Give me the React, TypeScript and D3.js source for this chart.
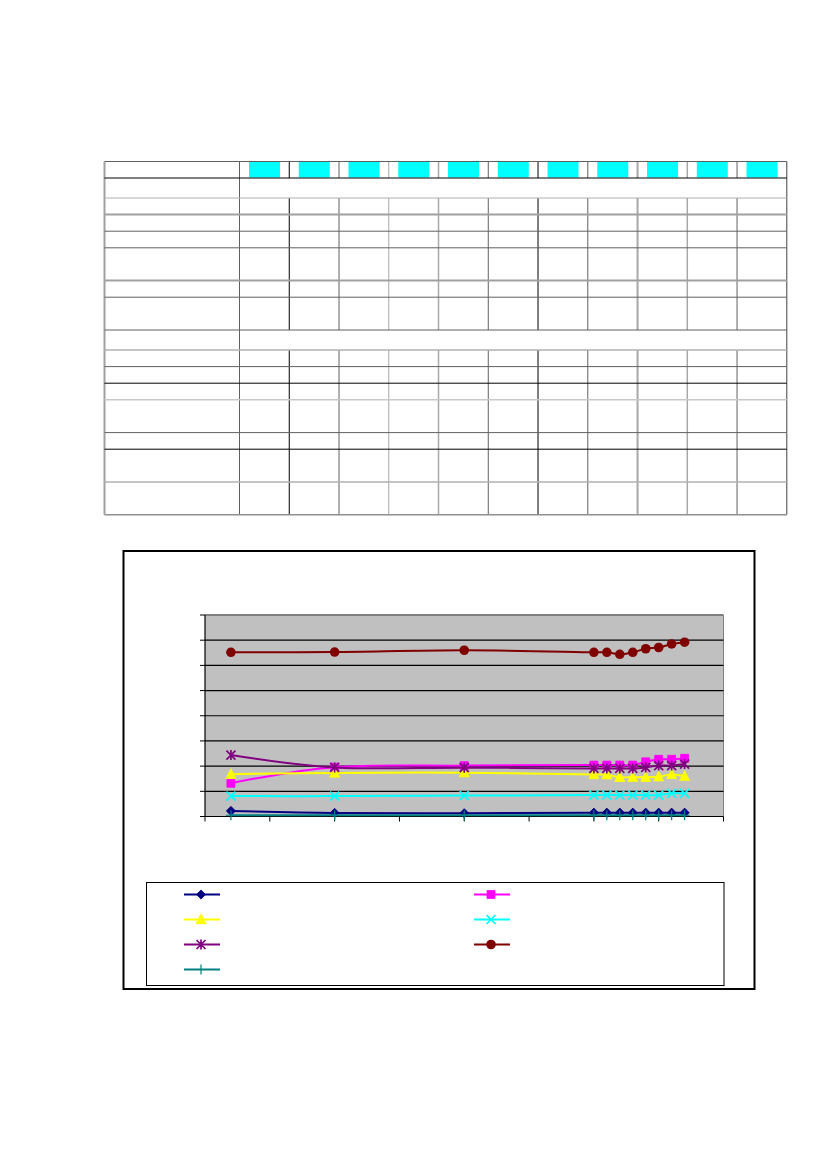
import React from "react";
import * as d3 from "d3";

// ---------- DATA ----------
const years = [1972, 1980, 1990, 2000, 2001, 2002, 2003, 2004, 2005, 2006, 2007];
const seriesNavy = [2.2, 1.4, 1.3, 1.5, 1.5, 1.5, 1.5, 1.5, 1.5, 1.5, 1.5];
const seriesMagenta = [13.2, 19.6, 20.2, 20.4, 20.4, 20.4, 20.4, 21.7, 22.7, 22.7, 23.1];
const seriesYellow = [16.8, 17.3, 17.4, 16.7, 16.6, 15.6, 15.6, 15.6, 15.8, 16.7, 16.0];
const seriesCyan = [8.1, 8.1, 8.3, 8.5, 8.5, 8.5, 8.5, 8.5, 8.5, 9.2, 9.2];
const seriesPurple = [24.4, 19.5, 19.4, 19.1, 19.1, 19.1, 19.1, 19.5, 20.2, 20.2, 20.8];
const seriesDarkRed = [65.2, 65.3, 66.0, 65.2, 65.2, 64.4, 65.2, 66.6, 67.1, 68.5, 69.2];
const seriesTeal = [0.5, 0.5, 0.5, 0.5, 0.5, 0.5, 0.5, 0.5, 0.5, 0.5, 0.5];

const xTicks = [1970, 1975, 1980, 1985, 1990, 1995, 2000, 2005, 2010];
const yTicks = [0, 10, 20, 30, 40, 50, 60, 70, 80];

// table structure (no text in the reference)
const tableColumns = years.map(String);
const tableRowKinds = [
  "header", "merged", "cell", "cell", "cell", "cell2", "cell", "cell2",
  "merged", "cell", "cell", "cell", "cell2", "cell", "cell2", "cell2",
];

// ---------- STYLE / LAYOUT ----------
type Marker = "diamond" | "square" | "triangle" | "x" | "asterisk" | "circle" | "plus";
const seriesList: { values: number[]; color: string; marker: Marker }[] = [
  { values: seriesNavy, color: "#000080", marker: "diamond" },
  { values: seriesMagenta, color: "#FF00FF", marker: "square" },
  { values: seriesYellow, color: "#FFFF00", marker: "triangle" },
  { values: seriesCyan, color: "#00FFFF", marker: "x" },
  { values: seriesPurple, color: "#800080", marker: "asterisk" },
  { values: seriesDarkRed, color: "#800000", marker: "circle" },
  { values: seriesTeal, color: "#008080", marker: "plus" },
];

const rowHeightsByKind: Record<string, number> = { header: 16.5, merged: 20, cell: 16.6, cell2: 32.8 };
const hLineStyles = [
  ["#606060", 1], ["#000000", 1], ["#b0b0b0", 1], ["#a0a0a0", 2], ["#606060", 1],
  ["#606060", 1], ["#a0a0a0", 2], ["#606060", 1], ["#606060", 1], ["#b0b0b0", 1.5],
  ["#606060", 1], ["#000000", 1], ["#c8c8c8", 1.5], ["#606060", 1], ["#000000", 1],
  ["#b0b0b0", 1.5], ["#909090", 1.5],
] as [string, number][];
const vLineStyles = [
  ["#606060", 1], ["#000000", 1], ["#606060", 1], ["#a8a8a8", 1], ["#a8a8a8", 1.5],
  ["#606060", 1], ["#000000", 1], ["#606060", 1], ["#a8a8a8", 2], ["#a8a8a8", 1.5],
  ["#606060", 1], ["#404040", 1],
] as [string, number][];

function markerPath(m: Marker, cx: number, cy: number): string {
  const s = 4.6;
  switch (m) {
    case "diamond":
      return `M${cx},${cy - s}L${cx + s},${cy}L${cx},${cy + s}L${cx - s},${cy}Z`;
    case "square":
      return `M${cx - 4},${cy - 4}h8v8h-8Z`;
    case "triangle":
      return `M${cx},${cy - 5.5}L${cx + 5},${cy + 4.2}L${cx - 5},${cy + 4.2}Z`;
    case "x":
      return `M${cx - 4.5},${cy - 4.5}L${cx + 4.5},${cy + 4.5}M${cx - 4.5},${cy + 4.5}L${cx + 4.5},${cy - 4.5}`;
    case "asterisk":
      return `M${cx - 4.5},${cy - 4.5}L${cx + 4.5},${cy + 4.5}M${cx - 4.5},${cy + 4.5}L${cx + 4.5},${cy - 4.5}M${cx},${cy - 5}L${cx},${cy + 5}`;
    case "plus":
      return `M${cx},${cy - 5}L${cx},${cy + 5}M${cx - 5},${cy}L${cx + 5},${cy}`;
    default:
      return "";
  }
}

function MarkerShape({ m, cx, cy, color }: { m: Marker; cx: number; cy: number; color: string }) {
  if (m === "circle") return <circle cx={cx} cy={cy} r={4.8} fill={color} />;
  const filled = m === "diamond" || m === "square" || m === "triangle";
  return filled ? (
    <path d={markerPath(m, cx, cy)} fill={color} stroke={color} strokeWidth={0.8} />
  ) : (
    <path d={markerPath(m, cx, cy)} fill="none" stroke={color} strokeWidth={m === "plus" ? 1.2 : 1.7} />
  );
}

export default function App() {
  // ---- table ----
  const tLeft = 104.5;
  const tTop = 161.5;
  const colScale = d3.scaleBand<string>().domain(tableColumns).range([239.5, 786.8]).paddingInner(0).paddingOuter(0);
  const rowYs: number[] = [tTop];
  tableRowKinds.forEach((k) => rowYs.push(rowYs[rowYs.length - 1] + rowHeightsByKind[k]));
  const tBottom = rowYs[rowYs.length - 1];
  const colEdges = [...tableColumns.map((c) => colScale(c) as number), 786.8];

  // ---- chart ----
  const x = d3.scaleLinear().domain([1970, 2010]).range([205, 723.5]);
  const y = d3.scaleLinear().domain([0, 80]).range([816.5, 615]);
  const line = d3
    .line<number>()
    .x((_, i) => x(years[i]))
    .y((v) => y(v))
    .curve(d3.curveCatmullRom.alpha(0));

  const legendLeft = [0, 2, 4, 6];
  const legendRight = [1, 3, 5];

  return (
    <svg
      width={826}
      height={1169}
      style={{ position: "absolute", left: 0, top: 0, background: "#fff" }}
      xmlns="http://www.w3.org/2000/svg"
    >
      <rect x={0} y={0} width={826} height={1169} fill="#fff" />
      {/* ---------- TABLE ---------- */}
      <g>
        {tableColumns.map((c) => (
          <rect
            key={"cy" + c}
            x={(colScale(c) as number) + 9.5}
            y={rowYs[0] + 0.5}
            width={31}
            height={rowYs[1] - rowYs[0] - 1}
            fill="#00FFFF"
          />
        ))}
        {colEdges.map((cx, ci) =>
          tableRowKinds.map((k, ri) => {
            if (k === "merged" && ci > 0 && ci < colEdges.length - 1) return null;
            const [col, w] = vLineStyles[ci];
            return (
              <line
                key={`v${ci}-${ri}`}
                x1={cx}
                x2={cx}
                y1={rowYs[ri]}
                y2={rowYs[ri + 1]}
                stroke={col}
                strokeWidth={w}
              />
            );
          })
        )}
        <line x1={tLeft} x2={tLeft} y1={tTop} y2={tBottom} stroke="#a0a0a0" strokeWidth={2} />
        {rowYs.map((ry, i) => (
          <line
            key={"h" + i}
            x1={tLeft}
            x2={786.8}
            y1={ry}
            y2={ry}
            stroke={hLineStyles[i][0]}
            strokeWidth={hLineStyles[i][1]}
          />
        ))}
      </g>

      {/* ---------- CHART ---------- */}
      <rect x={123.5} y={551} width={631} height={438} fill="#fff" stroke="#000" strokeWidth={2} />
      <rect x={205} y={615} width={518.5} height={201.5} fill="#C0C0C0" />
      <line x1={205} x2={723.5} y1={615} y2={615} stroke="#808080" strokeWidth={2} />
      <line x1={723.5} x2={723.5} y1={615} y2={816.5} stroke="#808080" strokeWidth={1} />
      {yTicks.slice(1, -1).map((t) => (
        <line key={"g" + t} x1={205} x2={723.5} y1={y(t)} y2={y(t)} stroke="#000" strokeWidth={1.2} />
      ))}
      {yTicks.map((t) => (
        <line key={"yt" + t} x1={200} x2={205} y1={y(t)} y2={y(t)} stroke="#000" strokeWidth={1} />
      ))}
      <line x1={205} x2={205} y1={615} y2={816.5} stroke="#000" strokeWidth={1.2} />
      <line x1={205} x2={723.5} y1={816.5} y2={816.5} stroke="#000" strokeWidth={1.2} />
      {xTicks.map((t) => (
        <line key={"xt" + t} x1={x(t)} x2={x(t)} y1={816.5} y2={821.5} stroke="#000" strokeWidth={1} />
      ))}

      {seriesList.map((s, si) => (
        <g key={"s" + si}>
          <path d={line(s.values) || ""} fill="none" stroke={s.color} strokeWidth={2} />
          {s.values.map((v, i) => (
            <MarkerShape key={i} m={s.marker} cx={x(years[i])} cy={y(v)} color={s.color} />
          ))}
        </g>
      ))}

      {/* ---------- LEGEND ---------- */}
      <rect x={146.5} y={882.5} width={577.5} height={103} fill="#fff" stroke="#000" strokeWidth={1} />
      {legendLeft.map((si, r) => {
        const s = seriesList[si];
        const ly = 894.5 + r * 25;
        return (
          <g key={"ll" + si}>
            <line x1={184} x2={220} y1={ly} y2={ly} stroke={s.color} strokeWidth={2} />
            <MarkerShape m={s.marker} cx={201} cy={ly} color={s.color} />
          </g>
        );
      })}
      {legendRight.map((si, r) => {
        const s = seriesList[si];
        const ly = 894.5 + r * 25;
        return (
          <g key={"lr" + si}>
            <line x1={474} x2={510} y1={ly} y2={ly} stroke={s.color} strokeWidth={2} />
            <MarkerShape m={s.marker} cx={491} cy={ly} color={s.color} />
          </g>
        );
      })}
    </svg>
  );
}
